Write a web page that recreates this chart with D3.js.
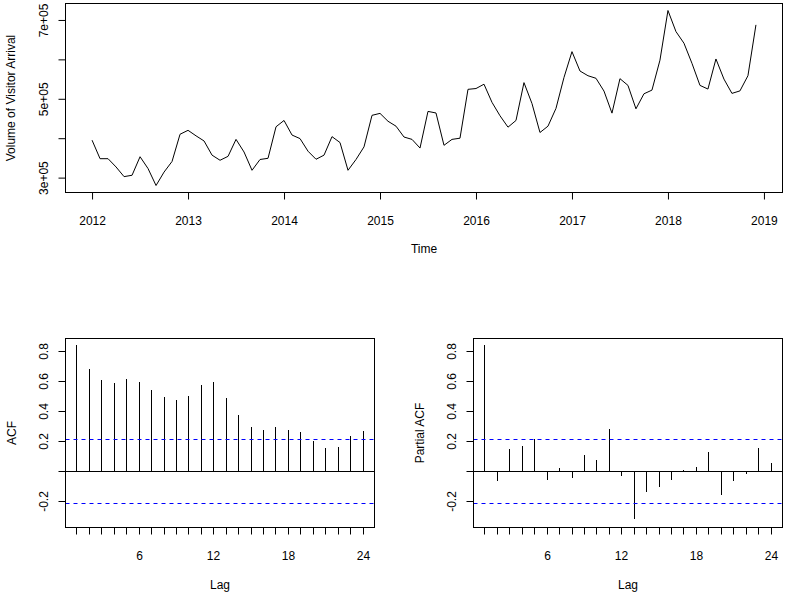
<!DOCTYPE html>
<html>
<head>
<meta charset="utf-8">
<script src="https://cdn.jsdelivr.net/npm/d3@7"></script>
<style>
  body { margin: 0; background: #fff; }
  svg text { font-family: Arial, "Liberation Sans", sans-serif; font-size: 12px; fill: #000; }
</style>
</head>
<body>
<svg id="chart" width="791" height="598"></svg>
<script>
// monthly visitor arrivals, Jan 2012 .. Dec 2018
var startYear = 2012;
var arrivals = [
  395000, 348000, 348000, 327000, 302500, 306000, 353000, 323000, 280000, 314000, 341000, 410000,
  420000, 406000, 393000, 357000, 344000, 354000, 397000, 365000, 318600, 346000, 349000, 429000,
  445000, 408000, 399000, 367000, 346600, 357000, 404000, 389000, 318600, 346000, 378000, 458000,
  463000, 443000, 430500, 403000, 397000, 375000, 468000, 464000, 382000, 397000, 400000, 524000,
  526000, 537000, 491000, 457000, 428000, 445000, 541000, 488000, 414500, 430500, 475600, 554000,
  619600, 570500, 558500, 552000, 519600, 463600, 551000, 534000, 474600, 512700, 522000, 598000,
  724000, 670500, 641000, 590000, 534000, 524700, 601000, 550000, 513700, 520000, 558500, 687500
];
var yearTicks = [2012, 2013, 2014, 2015, 2016, 2017, 2018, 2019];
var arrivalTicks = [300000, 400000, 500000, 600000, 700000];
var arrivalLabels = {300000: "3e+05", 500000: "5e+05", 700000: "7e+05"};

var lags = d3.range(1, 25);
var acfValues = [0.844, 0.689, 0.611, 0.591, 0.616, 0.598, 0.549, 0.498, 0.478, 0.504, 0.578, 0.598,
                 0.491, 0.378, 0.298, 0.278, 0.298, 0.278, 0.264, 0.204, 0.158, 0.164, 0.238, 0.271];
var pacfValues = [0.844, -0.062, 0.151, 0.171, 0.218, -0.056, 0.024, -0.040, 0.111, 0.078, 0.284, -0.027,
                  -0.312, -0.133, -0.100, -0.053, 0.011, 0.031, 0.131, -0.153, -0.060, -0.011, 0.158, 0.058];
var confLimit = 0.214;
var lagTicks = d3.range(1, 25);
var lagLabels = [6, 12, 18, 24];
var corrTicks = [-0.2, 0, 0.2, 0.4, 0.6, 0.8];

var svg = d3.select("#chart");

// R style 4% padding of a range
function pad(ext) {
  var d = (ext[1] - ext[0]) * 0.04;
  return [ext[0] - d, ext[1] + d];
}

// snap a coordinate to the pixel centre so 1px lines stay crisp
function crisp(v) { return Math.round(v - 0.5) + 0.5; }

function rotateLabels(g, off) {
  g.selectAll(".tick text")
    .attr("transform", "rotate(-90)")
    .attr("x", 0)
    .attr("y", -off)
    .attr("dy", 0)
    .attr("text-anchor", "middle");
}

function frame(x0, y0, x1, y1) {
  svg.append("rect")
    .attr("x", x0).attr("y", y0)
    .attr("width", x1 - x0).attr("height", y1 - y0)
    .attr("fill", "none").attr("stroke", "#000").attr("stroke-width", 1);
}

// ---- top panel: time series
var tsBox = {left: 65.5, right: 782.5, top: 3.5, bottom: 192.5};
var times = arrivals.map(function(d, i) { return startYear + i / 12; });

var x = d3.scaleLinear()
  .domain(pad(d3.extent(times)))
  .range([tsBox.left, tsBox.right]);
var y = d3.scaleLinear()
  .domain(pad(d3.extent(arrivals)))
  .range([tsBox.bottom, tsBox.top]);

svg.append("path")
  .datum(arrivals)
  .attr("fill", "none")
  .attr("stroke", "#000")
  .attr("stroke-width", 1)
  .attr("d", d3.line()
    .x(function(d, i) { return x(times[i]); })
    .y(function(d) { return y(d); }));

frame(tsBox.left, tsBox.top, tsBox.right, tsBox.bottom);

var gx = svg.append("g")
  .attr("transform", "translate(0," + tsBox.bottom + ")")
  .call(d3.axisBottom(x).tickValues(yearTicks).tickFormat(d3.format("d"))
    .tickSize(7).tickSizeOuter(0).tickPadding(17));
gx.select(".domain").remove();

var gy = svg.append("g")
  .attr("transform", "translate(" + tsBox.left + ",0)")
  .call(d3.axisLeft(y).tickValues(arrivalTicks)
    .tickFormat(function(d) { return arrivalLabels[d] || ""; })
    .tickSize(7).tickSizeOuter(0));
gy.select(".domain").remove();
rotateLabels(gy, 18);

svg.selectAll(".tick line").attr("stroke", "#000");
svg.selectAll(".tick text").style("font-size", "12px");

svg.append("text")
  .attr("x", (tsBox.left + tsBox.right) / 2)
  .attr("y", 252.5)
  .attr("text-anchor", "middle")
  .text("Time");
svg.append("text")
  .attr("transform", "translate(15," + (tsBox.top + tsBox.bottom) / 2 + ") rotate(-90)")
  .attr("text-anchor", "middle")
  .text("Volume of Visitor Arrival");

// ---- bottom panels: ACF and PACF
var corrDomain = [-0.371, 0.889];

function corrPanel(values, box, title) {
  var xs = d3.scaleLinear()
    .domain(pad(d3.extent(lags)))
    .range([box.left, box.right]);
  var ys = d3.scaleLinear()
    .domain(corrDomain)
    .range([box.bottom, box.top]);

  var g = svg.append("g");
  var y0 = crisp(ys(0));

  g.selectAll("line.bar")
    .data(values)
    .enter().append("line")
    .attr("class", "bar")
    .attr("x1", function(d, i) { return crisp(xs(lags[i])); })
    .attr("x2", function(d, i) { return crisp(xs(lags[i])); })
    .attr("y1", y0)
    .attr("y2", function(d) { return Math.round(ys(d)); })
    .attr("stroke", "#000")
    .attr("stroke-width", 1);

  g.append("line")
    .attr("x1", box.left).attr("x2", box.right)
    .attr("y1", y0).attr("y2", y0)
    .attr("stroke", "#000");

  [confLimit, -confLimit].forEach(function(c) {
    g.append("line")
      .attr("x1", box.left).attr("x2", box.right)
      .attr("y1", crisp(ys(c))).attr("y2", crisp(ys(c)))
      .attr("stroke", "#0000ff")
      .attr("stroke-dasharray", "4,4");
  });

  frame(box.left, box.top, box.right, box.bottom);

  var ax = g.append("g")
    .attr("transform", "translate(0," + box.bottom + ")")
    .call(d3.axisBottom(xs).tickValues(lagTicks)
      .tickFormat(function(d) { return lagLabels.indexOf(d) >= 0 ? d : ""; })
      .tickSize(7).tickSizeOuter(0).tickPadding(17));
  ax.select(".domain").remove();
  ax.selectAll(".tick").attr("transform", function(d) { return "translate(" + crisp(xs(d)) + ",0)"; });

  var ay = g.append("g")
    .attr("transform", "translate(" + box.left + ",0)")
    .call(d3.axisLeft(ys).tickValues(corrTicks)
      .tickFormat(function(d) { return d === 0 ? "" : d.toFixed(1); })
      .tickSize(7).tickSizeOuter(0));
  ay.select(".domain").remove();
  ay.selectAll(".tick").attr("transform", function(d) { return "translate(0," + crisp(ys(d)) + ")"; });
  rotateLabels(ay, 18);

  g.selectAll(".tick line").attr("stroke", "#000");
  g.selectAll(".tick text").style("font-size", "12px");

  g.append("text")
    .attr("x", (box.left + box.right) / 2)
    .attr("y", 589)
    .attr("text-anchor", "middle")
    .text("Lag");
  g.append("text")
    .attr("transform", "translate(" + (box.left - 50) + "," + (box.top + box.bottom) / 2 + ") rotate(-90)")
    .attr("text-anchor", "middle")
    .text(title);
}

corrPanel(acfValues, {left: 65.5, right: 374.5, top: 338.5, bottom: 527.5}, "ACF");
corrPanel(pacfValues, {left: 473.5, right: 782.5, top: 338.5, bottom: 527.5}, "Partial ACF");
</script>
</body>
</html>
